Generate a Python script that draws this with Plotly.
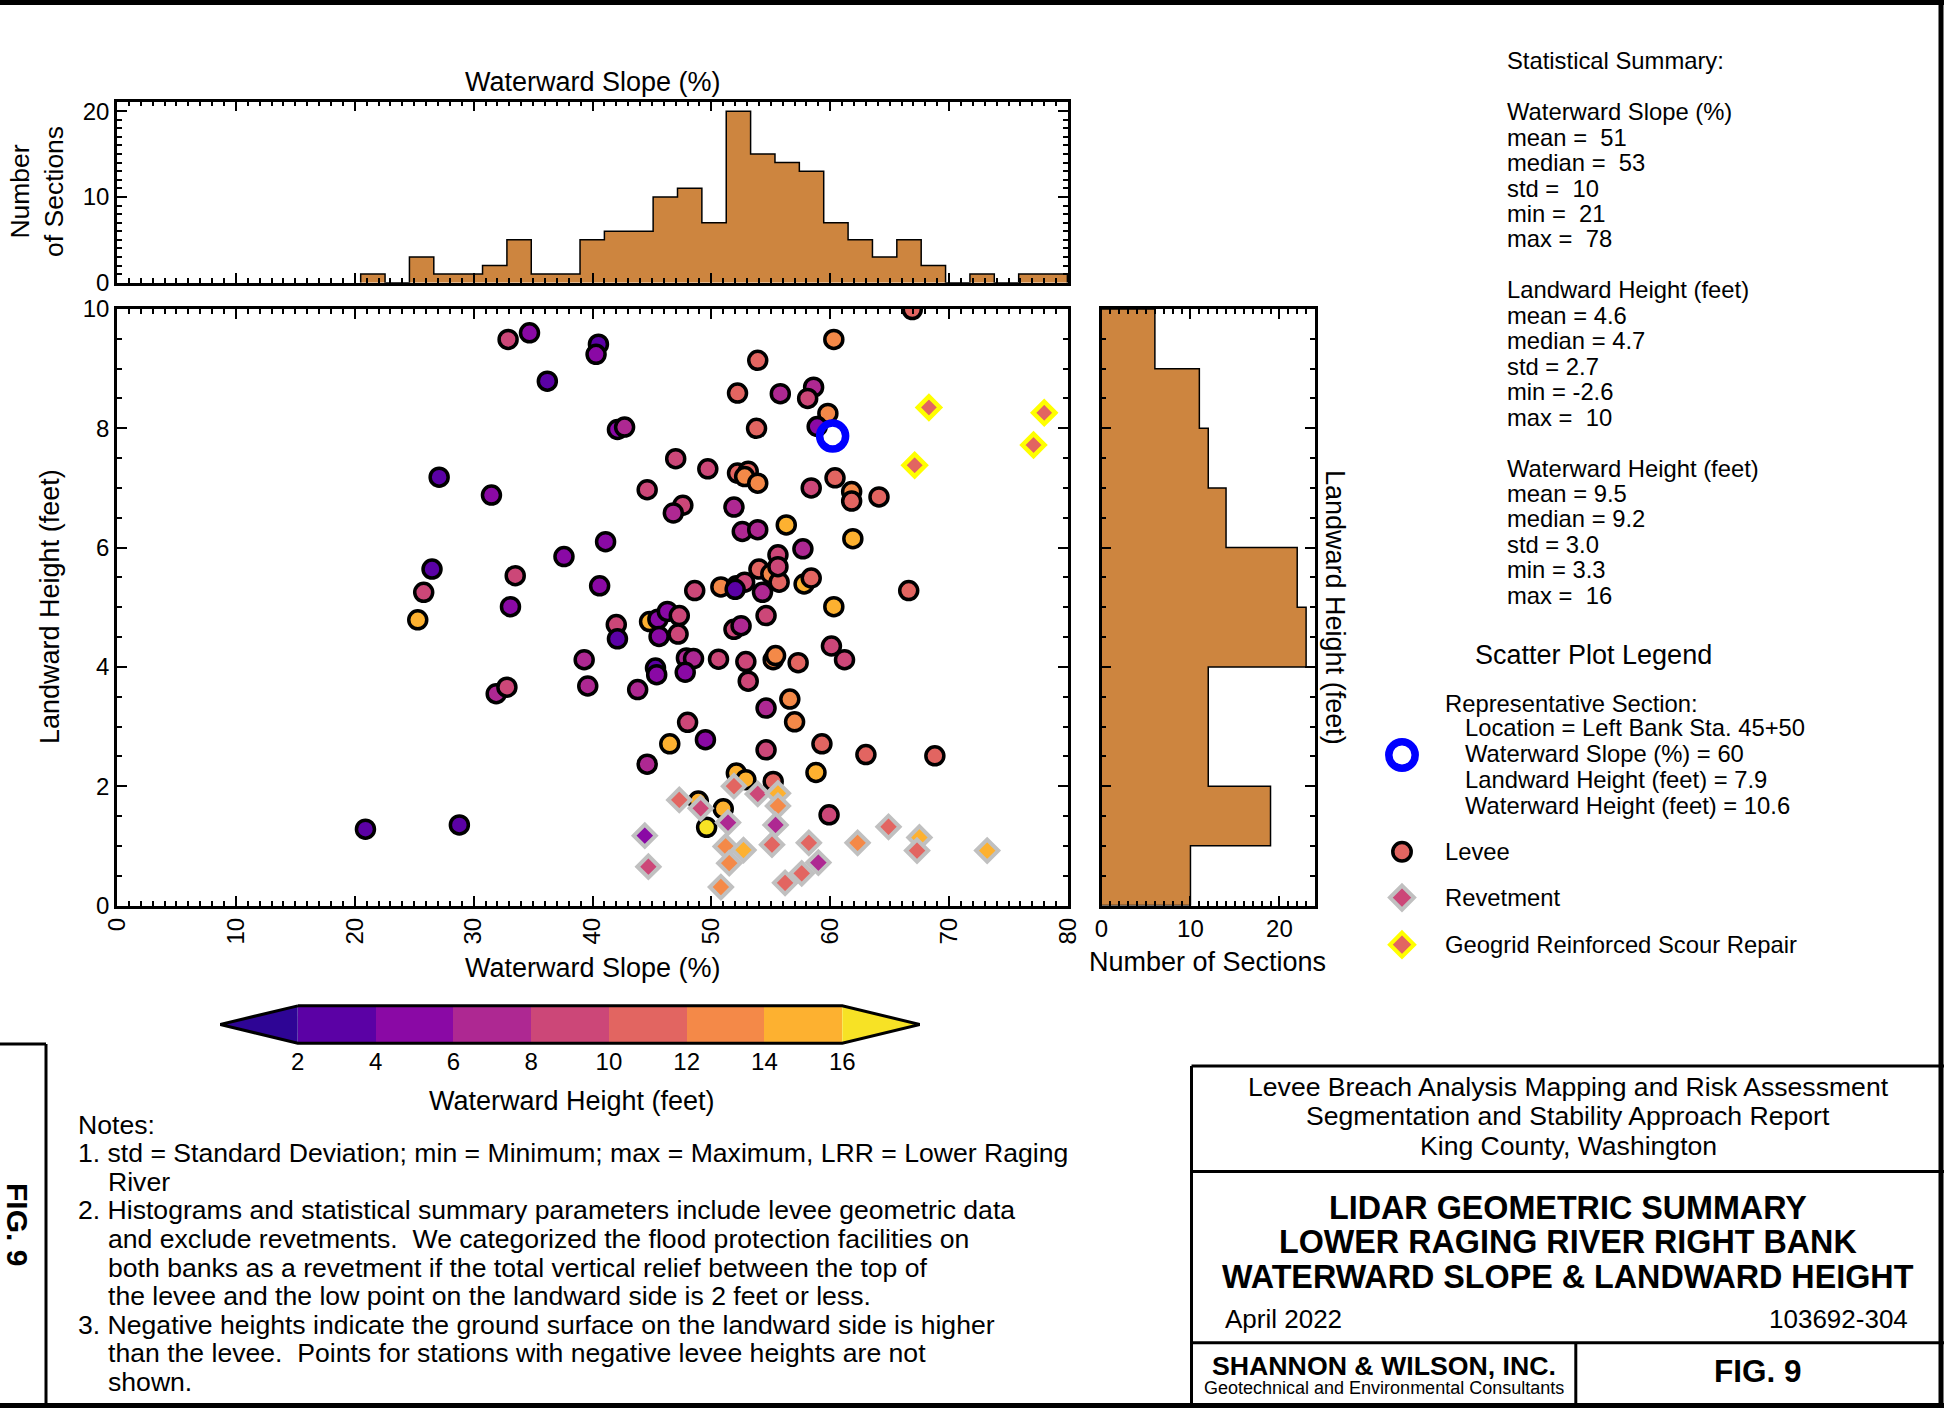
import plotly.graph_objects as go

W, H = 1944, 1408
FONT = "Liberation Sans, Arial, Helvetica, sans-serif"

# ---------------- data ----------------
# Levee sections: waterward slope (%), landward height (ft), waterward height (ft)
levee_slope = [20.9, 28.8, 32.9, 34.7, 40.5, 40.3, 36.2, 27.1, 31.5, 37.6, 41.1, 26.5, 25.8, 33.5, 33.1, 40.6,
               25.3, 39.3, 31.9, 32.8, 39.6, 66.9, 60.3, 53.9, 52.2, 55.8, 58.6, 58.1, 59.8, 58.9, 42.1, 42.7,
               53.8, 47.0, 49.7, 52.2, 53.1, 52.8, 53.9, 58.4, 60.4, 61.8, 61.8, 64.1, 44.6, 47.6, 46.8, 51.9,
               56.3, 52.6, 53.9, 61.9, 57.7, 55.6, 54.0, 55.0, 55.7, 55.6, 57.8, 58.4, 66.6, 48.6, 50.8, 52.1,
               52.8, 52.0, 54.3, 60.3, 42.0, 42.1, 44.8, 45.5, 46.3, 47.3, 45.6, 47.2, 51.9, 52.5, 54.6, 60.1,
               61.2, 43.8, 45.3, 45.4, 47.9, 48.5, 47.8, 50.6, 52.9, 53.1, 55.2, 55.4, 57.3, 56.6, 57.0, 54.6,
               48.0, 46.5, 49.5, 44.6, 54.6, 59.3, 63.0, 68.8, 58.8, 52.1, 52.9, 55.2, 48.9, 51.0, 49.6, 59.9]
levee_height = [1.28, 1.35, 9.49, 9.60, 9.41, 9.24, 8.79, 7.18, 6.88, 5.85, 6.10, 5.64, 5.25, 5.53, 5.01, 5.36,
                4.79, 4.12, 3.55, 3.66, 3.68, 9.99, 9.49, 9.14, 8.59, 8.58, 8.69, 8.50, 8.25, 8.03, 7.98, 8.02,
                8.00, 7.49, 7.32, 7.25, 7.28, 7.19, 7.08, 7.00, 7.17, 6.94, 6.78, 6.85, 6.97, 6.71, 6.58, 6.68,
                6.38, 6.27, 6.30, 6.15, 5.98, 5.88, 5.64, 5.56, 5.42, 5.68, 5.39, 5.49, 5.28, 5.28, 5.34, 5.36,
                5.42, 5.30, 5.25, 5.01, 4.71, 4.47, 4.76, 4.80, 4.93, 4.86, 4.51, 4.55, 4.63, 4.69, 4.86, 4.35,
                4.12, 3.62, 3.98, 3.87, 4.15, 4.14, 3.91, 4.13, 4.09, 3.76, 4.12, 4.19, 4.07, 3.46, 3.08, 3.31,
                3.07, 2.71, 2.78, 2.37, 2.61, 2.71, 2.53, 2.51, 2.23, 2.22, 2.11, 2.08, 1.75, 1.62, 1.31, 1.52]
levee_wh = [3, 3, 9, 5, 3, 5, 3, 3, 5, 5, 5, 3, 9, 9, 5, 5,
            15, 7, 7, 9, 7, 11, 13, 11, 11, 7, 7, 9, 13, 5, 5, 7,
            11, 9, 9, 11, 11, 13, 13, 9, 11, 13, 11, 11, 9, 9, 7, 7,
            15, 7, 7, 15, 7, 9, 11, 13, 11, 9, 15, 11, 11, 9, 13, 7,
            9, 3, 7, 15, 9, 3, 15, 5, 5, 9, 5, 9, 9, 7, 9, 9,
            9, 7, 3, 5, 7, 7, 5, 9, 9, 9, 13, 13, 11, 13, 13, 7,
            9, 15, 5, 7, 9, 11, 11, 11, 15, 15, 15, 11, 15, 15, 17, 9]

# Revetments
revet_slope = [47.3, 49.1, 51.9, 53.9, 55.6, 55.6, 51.4, 55.4, 44.4, 44.7, 51.2, 52.7,
               51.5, 55.1, 58.2, 59.0, 57.6, 56.2, 50.8, 62.3, 64.9, 67.5, 67.3, 73.2]
revet_height = [1.77, 1.63, 2.00, 1.87, 1.88, 1.67, 1.39, 1.35, 1.17, 0.65, 0.99, 0.93,
                0.71, 1.02, 1.05, 0.72, 0.54, 0.38, 0.31, 1.05, 1.32, 1.14, 0.92, 0.92]
revet_wh = [11, 9, 11, 9, 15, 13, 7, 7, 5, 9, 13, 15,
            13, 11, 11, 7, 11, 11, 13, 13, 11, 15, 11, 15]

# Geogrid reinforced scour repair
geo_slope = [68.3, 78.0, 77.1, 67.1]
geo_height = [8.35, 8.26, 7.72, 7.38]
geo_wh = [11, 11, 11, 11]

# Representative section
rep_slope = [60.2]
rep_height = [7.87]

# Histograms
slope_edges = [20.5, 22.55, 24.6, 26.65, 28.7, 30.75, 32.8, 34.85, 36.9, 38.95, 41.0, 43.05, 45.1, 47.15,
               49.2, 51.25, 53.3, 55.35, 57.4, 59.45, 61.5, 63.55, 65.6, 67.65, 69.7, 71.75, 73.8, 75.85,
               77.9, 79.95]
slope_counts = [1, 0, 3, 1, 1, 2, 5, 1, 1, 5, 6, 6, 10, 11, 7, 20, 15, 14, 13, 7, 5, 3, 5, 2, 0, 1, 0, 1, 1]
height_edges = [0, 1, 2, 3, 4, 5, 6, 7, 8, 9, 10]
height_counts = [10, 19, 12, 12, 23, 22, 14, 12, 11, 6]

# Colour classes for waterward height
cbar_bounds = [2, 4, 6, 8, 10, 12, 14, 16]
cbar_colors = ["#2e0595", "#5b01a5", "#8a09a5", "#ae2892", "#cc4778",
               "#e26561", "#f48948", "#fdb130", "#f7e225"]
cbar_ticks = [2, 4, 6, 8, 10, 12, 14, 16]

stats_lines = ["Statistical Summary:", "", "Waterward Slope (%)", "mean = \u00a051", "median = \u00a053",
               "std = \u00a010", "min = \u00a021", "max = \u00a078", "", "Landward Height (feet)",
               "mean = 4.6", "median = 4.7", "std = 2.7", "min = -2.6", "max = \u00a010", "",
               "Waterward Height (feet)", "mean = 9.5", "median = 9.2", "std = 3.0", "min = 3.3",
               "max = \u00a016"]

HIST_COLOR = "#cd853f"

# ---------------- helpers ----------------
def px(x):
    return x / W


def py(y):
    return 1 - y / H


n = len(cbar_colors)
cscale = []
for i, c in enumerate(cbar_colors):
    cscale.append([i / n, c])
    cscale.append([(i + 1) / n, c])
CMIN, CMAX = 0, 18

fig = go.Figure()

# top histogram (step filled)
sx, sy = [slope_edges[0]], [0]
for i, c in enumerate(slope_counts):
    sx += [slope_edges[i], slope_edges[i + 1]]
    sy += [c, c]
sx.append(slope_edges[-1]); sy.append(0)
fig.add_trace(go.Scatter(x=sx, y=sy, mode="lines", fill="tozeroy", fillcolor=HIST_COLOR,
                         line=dict(color="black", width=1.5), xaxis="x2", yaxis="y2",
                         hoverinfo="skip", showlegend=False))

# right histogram (horizontal step filled)
hx, hy = [0], [height_edges[0]]
for i, c in enumerate(height_counts):
    hx += [c, c]
    hy += [height_edges[i], height_edges[i + 1]]
hx.append(0); hy.append(height_edges[-1])
fig.add_trace(go.Scatter(x=hx, y=hy, mode="lines", fill="tozerox", fillcolor=HIST_COLOR,
                         line=dict(color="black", width=1.5), xaxis="x3", yaxis="y3",
                         hoverinfo="skip", showlegend=False))

# scatter
fig.add_trace(go.Scatter(x=levee_slope, y=levee_height, mode="markers", showlegend=False,
                         marker=dict(symbol="circle", size=18, color=levee_wh, colorscale=cscale,
                                     cmin=CMIN, cmax=CMAX, line=dict(color="black", width=3.5))))
fig.add_trace(go.Scatter(x=revet_slope, y=revet_height, mode="markers", showlegend=False,
                         marker=dict(symbol="diamond", size=17, color=revet_wh, colorscale=cscale,
                                     cmin=CMIN, cmax=CMAX, line=dict(color="#c0c0c0", width=4))))
fig.add_trace(go.Scatter(x=geo_slope, y=geo_height, mode="markers", showlegend=False,
                         marker=dict(symbol="diamond", size=17, color=geo_wh, colorscale=cscale,
                                     cmin=CMIN, cmax=CMAX, line=dict(color="#ffff00", width=4.5))))
fig.add_trace(go.Scatter(x=rep_slope, y=rep_height, mode="markers", showlegend=False,
                         marker=dict(symbol="circle-open", size=26, color="#0000ff",
                                     line=dict(color="#0000ff", width=7.5))))

# colour bar built on its own axis
mids = [(cbar_bounds[i] + cbar_bounds[i + 1]) / 2 for i in range(len(cbar_bounds) - 1)]
fig.add_trace(go.Bar(x=mids, y=[1] * len(mids), width=[2] * len(mids), base=0,
                     marker=dict(color=cbar_colors[1:-1], line=dict(width=0)),
                     xaxis="x4", yaxis="y4", showlegend=False, hoverinfo="skip"))
lo, hi = cbar_bounds[0], cbar_bounds[-1]
fig.add_trace(go.Scatter(x=[CMIN, lo, lo, CMIN], y=[0.5, 1, 0, 0.5], fill="toself", mode="lines",
                         fillcolor=cbar_colors[0], line=dict(width=0), xaxis="x4", yaxis="y4",
                         showlegend=False, hoverinfo="skip"))
fig.add_trace(go.Scatter(x=[hi, CMAX, hi, hi], y=[1, 0.5, 0, 1], fill="toself", mode="lines",
                         fillcolor=cbar_colors[-1], line=dict(width=0), xaxis="x4", yaxis="y4",
                         showlegend=False, hoverinfo="skip"))
fig.add_trace(go.Scatter(x=[lo, hi, CMAX, hi, lo, CMIN, lo], y=[1, 1, 0.5, 0, 0, 0.5, 1], mode="lines",
                         line=dict(color="black", width=3), xaxis="x4", yaxis="y4",
                         showlegend=False, hoverinfo="skip"))


def axstyle(**kw):
    d = dict(showline=True, linecolor="black", linewidth=2.5, mirror="ticks", ticks="inside",
             ticklen=10, tickwidth=2, tickcolor="black", showgrid=False, zeroline=False,
             automargin=False, tickfont=dict(size=24, family=FONT, color="black"))
    d.update(kw)
    return d


def minor(dt):
    return dict(ticks="inside", ticklen=5, tickwidth=1.5, tickcolor="black", dtick=dt, showgrid=False)


sc_x = [px(117), px(1068)]
sc_y = [py(905.5), py(309)]
layout = dict(
    template="none",
    width=W, height=H, margin=dict(l=0, r=0, t=0, b=0, pad=0, autoexpand=False),
    paper_bgcolor="white", plot_bgcolor="rgba(0,0,0,0)",
    font=dict(family=FONT, color="black"),
    xaxis=axstyle(domain=sc_x, range=[0, 80], dtick=10, tick0=0, minor=minor(1), tickangle=-90,
                  anchor="y"),
    yaxis=axstyle(domain=sc_y, range=[0, 10], dtick=2, tick0=0, minor=minor(0.5), anchor="x"),
    xaxis2=axstyle(domain=sc_x, range=[0, 80], dtick=10, tick0=0, minor=minor(1),
                   showticklabels=False, anchor="y2"),
    yaxis2=axstyle(domain=[py(282.7), py(101.7)], range=[0, 21.1], dtick=10, tick0=0,
                   minor=minor(1), anchor="x2"),
    xaxis3=axstyle(domain=[px(1101.5), px(1315)], range=[0, 24], dtick=10, tick0=0,
                   minor=minor(1), anchor="y3"),
    yaxis3=axstyle(domain=sc_y, range=[0, 10], dtick=2, tick0=0, minor=minor(0.5),
                   showticklabels=False, anchor="x3"),
    xaxis4=dict(domain=[px(220), px(920)], range=[CMIN, CMAX], tickvals=cbar_ticks, ticks="",
                showline=False, showgrid=False, zeroline=False, anchor="y4", automargin=False,
                tickfont=dict(size=24, family=FONT, color="black")),
    yaxis4=dict(domain=[py(1045), py(1004)], range=[-0.05, 1.05], visible=False, anchor="x4",
                automargin=False),
    bargap=0,
)

ann = []


def txt(s, x, y, size=23, xanchor="left", bold=False, angle=0):
    ann.append(dict(text=("<b>" + s + "</b>") if bold else s, x=px(x), y=py(y), xref="paper",
                    yref="paper", xanchor=xanchor, yanchor="middle", showarrow=False,
                    textangle=angle, font=dict(size=size, family=FONT, color="black")))


# axis titles
txt("Waterward Slope (%)", 593, 82, 27, "center")
txt("Number<br>of Sections", 37, 192, 26.5, "center", angle=-90)
txt("Waterward Slope (%)", 593, 968, 27, "center")
txt("Landward Height (feet)", 50, 607, 27, "center", angle=-90)
txt("Number of Sections", 1207.5, 962, 27, "center")
txt("Landward Height (feet)", 1335, 607, 27, "center", angle=90)
txt("Waterward Height (feet)", 572, 1101, 27, "center")

# statistical summary
for i, s in enumerate(stats_lines):
    if s:
        txt(s, 1505, 60.8 + 25.45 * i, 23.8)

# scatter legend
txt("Scatter Plot Legend", 1472.5, 654.6, 27)
txt("Representative Section:", 1443, 703, 23.8)
for i, s in enumerate(["Location = Left Bank Sta. 45+50", "Waterward Slope (%) = 60",
                       "Landward Height (feet) = 7.9", "Waterward Height (feet) = 10.6"]):
    txt(s, 1463, 727.8 + 26 * i, 23.8)
txt("Levee", 1443, 851.7, 23.8)
txt("Revetment", 1443, 897.6, 23.8)
txt("Geogrid Reinforced Scour Repair", 1443, 944.7, 23.8)

# notes
notes = [("Notes:", 75.5), ("1. std = Standard Deviation; min = Minimum; max = Maximum, LRR = Lower Raging", 75.5),
         ("River", 105.5),
         ("2. Histograms and statistical summary parameters include levee geometric data", 75.5),
         ("and exclude revetments.\u00a0 We categorized the flood protection facilities on", 105.5),
         ("both banks as a revetment if the total vertical relief between the top of", 105.5),
         ("the levee and the low point on the landward side is 2 feet or less.", 105.5),
         ("3. Negative heights indicate the ground surface on the landward side is higher", 75.5),
         ("than the levee.\u00a0 Points for stations with negative levee heights are not", 105.5),
         ("shown.", 105.5)]
for i, (s, x) in enumerate(notes):
    txt(s, x, 1124.5 + 28.6 * i, 26.6)

# title block text
txt("Levee Breach Analysis Mapping and Risk Assessment", 1568, 1087.3, 26.6, "center")
txt("Segmentation and Stability Approach Report", 1568, 1116.3, 26.6, "center")
txt("King County, Washington", 1568, 1145.6, 26.6, "center")
txt("LIDAR GEOMETRIC SUMMARY", 1568, 1207.8, 32.3, "center", bold=True)
txt("LOWER RAGING RIVER RIGHT BANK", 1568, 1242.3, 32.3, "center", bold=True)
txt("WATERWARD SLOPE &amp; LANDWARD HEIGHT", 1568, 1276.8, 32.3, "center", bold=True)
txt("April 2022", 1222.5, 1319, 26)
txt("103692-304", 1909.5, 1319, 26, "right")
txt("SHANNON &amp; WILSON, INC.", 1383.6, 1366, 26.7, "center", bold=True)
txt("Geotechnical and Environmental Consultants", 1383.6, 1388, 18, "center")
txt("FIG. 9", 1758, 1371, 31.5, "center", bold=True)
txt("FIG. 9", 18, 1224, 30, "center", bold=True, angle=90)

layout["annotations"] = ann

shapes = []


def line(x0, y0, x1, y1, w=3):
    shapes.append(dict(type="line", xref="paper", yref="paper", x0=px(x0), y0=py(y0), x1=px(x1),
                       y1=py(y1), line=dict(color="black", width=w)))


# page border
line(0, 2.5, W, 2.5, 5)
line(W - 3, 0, W - 3, H, 5)
line(0, H - 2.5, W, H - 2.5, 5)
# FIG tab
line(46, 1044, 46, H, 3)
line(0, 1044, 46, 1044, 3)
# title block
line(1191.5, 1066, W, 1066, 3)
line(1191.5, 1066, 1191.5, H, 3)
line(1191.5, 1171.6, W, 1171.6, 3)
line(1191.5, 1342.7, W, 1342.7, 3)
line(1575.8, 1342.7, 1575.8, H, 3)


def circ(cx, cy, r, fill, lc, lw):
    shapes.append(dict(type="circle", xref="paper", yref="paper", x0=px(cx - r), x1=px(cx + r),
                       y0=py(cy + r), y1=py(cy - r), fillcolor=fill, line=dict(color=lc, width=lw)))


def diamond(cx, cy, r, fill, lc, lw):
    pts = [(cx, cy - r), (cx + r, cy), (cx, cy + r), (cx - r, cy)]
    path = "M " + " L ".join(f"{px(a):.6f},{py(b):.6f}" for a, b in pts) + " Z"
    shapes.append(dict(type="path", xref="paper", yref="paper", path=path, fillcolor=fill,
                       line=dict(color=lc, width=lw)))


circ(1402, 755, 13.2, "rgba(0,0,0,0)", "#0000ff", 7.5)
circ(1402, 851.7, 9.2, cbar_colors[5], "black", 3.5)
diamond(1402, 897.6, 12, cbar_colors[4], "#c0c0c0", 4)
diamond(1402, 944.7, 12, cbar_colors[5], "#ffff00", 4)

layout["shapes"] = shapes
fig.update_layout(**layout)
fig.write_html("out.html")
